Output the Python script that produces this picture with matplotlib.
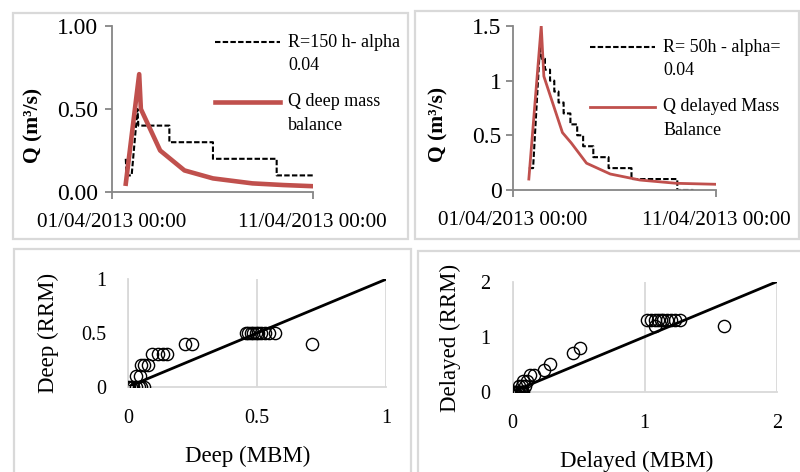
import numpy as np
import pandas as pd
import matplotlib
matplotlib.use('Agg')
import matplotlib.pyplot as plt
import matplotlib.dates as mdates
from matplotlib.patches import Rectangle
from matplotlib.ticker import FormatStrFormatter, FuncFormatter

plt.rcParams['font.family'] = ['Liberation Serif', 'DejaVu Serif']

t0 = pd.Timestamp('2013-04-01 00:00')

# deep flow, hours after 01/04/2013 00:00
deep_rrm_h = [17, 18, 24, 31, 32, 69, 69, 121, 121, 197, 197, 240]
deep_rrm_q = [0.2, 0.1, 0.1, 0.5, 0.4, 0.4, 0.3, 0.3, 0.2, 0.2, 0.1, 0.1]
deep_mbm_h = [17, 33, 35, 58, 87, 121, 168, 205, 240]
deep_mbm_q = [0.05, 0.71, 0.50, 0.25, 0.13, 0.082, 0.052, 0.042, 0.035]

# delayed flow
del_rrm_h = [19, 24, 32, 34, 38, 38, 44, 44, 49, 49, 54, 54, 60, 60, 68, 68, 76, 76,
             83, 83, 95, 95, 113, 113, 140, 140, 194, 194, 213]
del_rrm_q = [0.2, 0.2, 1.3, 1.2, 1.2, 1.1, 1.1, 1.0, 1.0, 0.9, 0.9, 0.8, 0.8, 0.7, 0.7,
             0.6, 0.6, 0.5, 0.5, 0.4, 0.4, 0.3, 0.3, 0.2, 0.2, 0.1, 0.1, 0.0, 0.0]
del_mbm_h = [19, 33.6, 36.7, 58.6, 69, 87, 115, 150, 193, 240]
del_mbm_q = [0.10, 1.50, 1.04, 0.525, 0.43, 0.245, 0.146, 0.091, 0.061, 0.052]

# scatter MBM vs RRM
deep_x = [0.0, 0.01, 0.02, 0.03, 0.04, 0.05, 0.06, 0.028, 0.045, 0.05, 0.062, 0.075,
          0.09, 0.115, 0.135, 0.15, 0.22, 0.246,
          0.455, 0.465, 0.475, 0.485, 0.495, 0.505, 0.515, 0.53, 0.545, 0.57, 0.712]
deep_y = [0, 0, 0, 0, 0, 0, 0, 0.1, 0.1, 0.2, 0.2, 0.2, 0.3, 0.3, 0.3, 0.3, 0.4, 0.4,
          0.5, 0.5, 0.5, 0.5, 0.5, 0.5, 0.5, 0.5, 0.5, 0.5, 0.4]
del_x = [0.0, 0.01, 0.02, 0.03, 0.04, 0.05, 0.06, 0.07, 0.08, 0.05, 0.07, 0.09,
         0.08, 0.11, 0.13, 0.16, 0.24, 0.28, 0.46, 0.51,
         1.02, 1.05, 1.08, 1.10, 1.12, 1.14, 1.17, 1.20, 1.23, 1.27, 1.08, 1.6]
del_y = [0, 0, 0, 0, 0, 0, 0, 0, 0, 0.1, 0.1, 0.1, 0.2, 0.2, 0.3, 0.3, 0.4, 0.5, 0.7, 0.8,
         1.3, 1.3, 1.3, 1.3, 1.3, 1.3, 1.3, 1.3, 1.3, 1.3, 1.2, 1.2]

red = '#C0504D'
axis_grey = '#868686'
light = '#D9D9D9'


def to_time(hours):
    return t0 + pd.to_timedelta(np.array(hours, dtype=float), unit='h')


fig = plt.figure(figsize=(8, 4.72), dpi=100)

# panel frames
for x0, y0, x1, y1 in [(13, 13, 408, 239), (415, 11, 799, 239),
                       (14, 249, 411, 480), (418, 251, 805, 480)]:
    fig.patches.append(Rectangle((x0 / 800, 1 - y1 / 472), (x1 - x0) / 800, (y1 - y0) / 472,
                                 transform=fig.transFigure, fill=False,
                                 edgecolor=light, linewidth=1.6))


def hydro(ax, th, qh, tm, qm, lab1, lab2, red_lw, ymax, yticks, yfmt, ypad, legxy):
    ax.plot(to_time(th), qh, color='black', lw=1.5, dashes=(2.6, 1.1), label=lab1)
    ax.plot(to_time(tm), qm, color=red, lw=red_lw, label=lab2)
    ax.set_xlim(t0, t0 + pd.Timedelta(days=10))
    ax.set_ylim(0, ymax)
    ax.set_xticks([t0, t0 + pd.Timedelta(days=10)])
    ax.xaxis.set_major_formatter(mdates.DateFormatter('%d/%m/%Y %H:%M'))
    ax.set_yticks(yticks)
    ax.yaxis.set_major_formatter(yfmt)
    for s in ['top', 'right']:
        ax.spines[s].set_visible(False)
    for s in ['left', 'bottom']:
        ax.spines[s].set_color(axis_grey)
        ax.spines[s].set_linewidth(1.3)
    ax.tick_params(axis='x', length=5, width=1.3, color=axis_grey, pad=10, labelsize=15.2)
    ax.tick_params(axis='y', length=5, width=1.3, color=axis_grey, pad=ypad, labelsize=17)
    ax.set_ylabel('Q (m³/s)', fontsize=15.5, fontweight='bold', va='center')
    leg = ax.legend(loc='upper left', bbox_to_anchor=legxy, frameon=False, fontsize=13,
                    handlelength=3.6, handletextpad=0.45, labelspacing=1.05, borderpad=0,
                    borderaxespad=0)
    for t in leg.get_texts():
        t.set_linespacing(1.5)
    # put the handle next to the first line of each two-line label
    fig.canvas.draw()
    r = fig.canvas.get_renderer()
    for h, t in zip(leg.legend_handles, leg.get_texts()):
        full = t.get_window_extent(r).height
        one = ax.text(0, 0, t.get_text().split('\n')[0], fontsize=13)
        single = one.get_window_extent(r).height
        one.remove()
        h.set_ydata(np.asarray(h.get_ydata()) + (full - single) / 2 * 72 / fig.dpi)


ax1 = fig.add_axes([0.1394, 0.5932, 0.2515, 0.3517])
hydro(ax1, deep_rrm_h, deep_rrm_q, deep_mbm_h, deep_mbm_q,
      'R=150 h- alpha\n0.04', 'Q deep mass\nbalance', 3.3, 1.0, [0, 0.5, 1.0],
      FormatStrFormatter('%.2f'), 5, (0.514, 0.953))
ax1.yaxis.set_label_coords(-0.39, 0.404)

ax2 = fig.add_axes([0.6409, 0.5975, 0.2545, 0.3475])
hydro(ax2, del_rrm_h, del_rrm_q, del_mbm_h, del_mbm_q,
      'R= 50h - alpha=\n0.04', 'Q delayed Mass\nBalance', 2.0, 1.5, [0, 0.5, 1, 1.5],
      FuncFormatter(lambda v, p: f'{v:g}'), 3, (0.38, 0.922))
ax2.yaxis.set_label_coords(-0.365, 0.40)


def scatter(ax, x, y, lim, ticks, xlab, ylab, xlc, ylc):
    ax.plot(x, y, 'o', ms=8.8, mfc='none', mec='black', mew=1.0, zorder=3)
    ax.plot([0, lim], [0, lim], color='black', lw=2.0, zorder=2)
    ax.set_xlim(0, lim)
    ax.set_ylim(0, lim)
    ax.set_xticks(ticks)
    ax.set_yticks(ticks)
    fmt = FuncFormatter(lambda v, p: f'{v:g}')
    ax.xaxis.set_major_formatter(fmt)
    ax.yaxis.set_major_formatter(fmt)
    for s in ['top', 'right']:
        ax.spines[s].set_visible(False)
    for s in ['left', 'bottom']:
        ax.spines[s].set_color(light)
        ax.spines[s].set_linewidth(1.3)
    ax.grid(axis='x', color=light, lw=1.3)
    ax.set_axisbelow(True)
    ax.tick_params(length=0, labelsize=14.5)
    ax.tick_params(axis='y', pad=16)
    ax.tick_params(axis='x', pad=16)
    ax.patch.set_visible(False)
    ax.set_xlabel(xlab, fontsize=16.5, va='center')
    ax.set_ylabel(ylab, fontsize=16.5, va='center')
    ax.xaxis.set_label_coords(*xlc)
    ax.yaxis.set_label_coords(*ylc)
    for sp in ax.spines.values():
        sp.set_clip_on(False)


ax3 = fig.add_axes([0.1604, 0.1807, 0.322, 0.2275])
scatter(ax3, deep_x, deep_y, 1, [0, 0.5, 1], 'Deep (MBM)', 'Deep (RRM)',
        (0.465, -0.65), (-0.31, 0.5))

ax4 = fig.add_axes([0.6409, 0.1701, 0.33, 0.233])
scatter(ax4, del_x, del_y, 2, [0, 1, 2], 'Delayed (MBM)', 'Delayed (RRM)',
        (0.47, -0.63), (-0.2375, 0.49))

fig.savefig('out.png', dpi=100)
